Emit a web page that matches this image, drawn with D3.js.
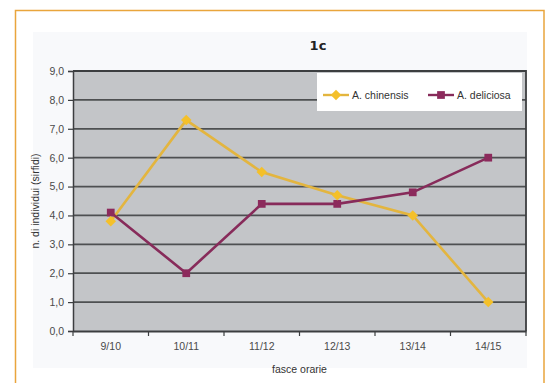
<!DOCTYPE html>
<html>
<head>
<meta charset="utf-8">
<script src="https://cdn.jsdelivr.net/npm/d3@7/dist/d3.min.js"></script>
<style>
  html, body { margin: 0; padding: 0; background: #ffffff; }
  svg { display: block; }
</style>
</head>
<body>
<svg id="chart" width="547" height="383"></svg>
<script>
// Time slots (x categories)
const categories = ["9/10", "10/11", "11/12", "12/13", "13/14", "14/15"];
// Number of individuals (syrphids) per time slot
const chinensis = [3.8, 7.3, 5.5, 4.7, 4.0, 1.0];
const deliciosa = [4.1, 2.0, 4.4, 4.4, 4.8, 6.0];
const seriesNames = ["A. chinensis", "A. deliciosa"];
const yTicks = [0, 1, 2, 3, 4, 5, 6, 7, 8, 9];

const svg = d3.select("#chart");
const font = "Arial, 'Liberation Sans', sans-serif";

// outer orange frame
svg.append("rect")
  .attr("x", 15.5).attr("y", 10.5)
  .attr("width", 528.5).attr("height", 390)
  .attr("fill", "#ffffff")
  .attr("stroke", "#e9a53c").attr("stroke-width", 1.5);

// chart area
svg.append("rect")
  .attr("x", 33).attr("y", 32)
  .attr("width", 494).attr("height", 336)
  .attr("fill", "#f8f9fb");

const plot = { left: 73, right: 526, top: 71, bottom: 331 };

const x = d3.scaleBand().domain(categories)
  .range([plot.left, plot.right]).padding(0);
const y = d3.scaleLinear().domain([0, 9])
  .range([plot.bottom, plot.top]);

// plot background
svg.append("rect")
  .attr("x", plot.left).attr("y", plot.top)
  .attr("width", plot.right - plot.left).attr("height", plot.bottom - plot.top)
  .attr("fill", "#c3c5c8");

// horizontal gridlines
svg.append("g").selectAll("line").data(yTicks.filter(d => d > 0))
  .join("line")
  .attr("x1", plot.left).attr("x2", plot.right)
  .attr("y1", d => y(d)).attr("y2", d => y(d))
  .attr("stroke", "#4e5052").attr("stroke-width", 1.8);

// plot border (top and right)
svg.append("path")
  .attr("d", `M${plot.left},${plot.top}H${plot.right}V${plot.bottom}`)
  .attr("fill", "none").attr("stroke", "#3c3e40").attr("stroke-width", 1.8);

// y axis
const yAxis = svg.append("g")
  .attr("transform", `translate(${plot.left},0)`)
  .call(d3.axisLeft(y).tickValues(yTicks).tickSize(5).tickPadding(4)
    .tickFormat(d => d3.format(".1f")(d).replace(".", ",")));
yAxis.select(".domain").attr("stroke", "#3c3e40").attr("stroke-width", 1.5);
yAxis.selectAll(".tick line").attr("stroke", "#3c3e40").attr("stroke-width", 1.2);
yAxis.selectAll("text").attr("font-family", font).attr("font-size", 10.5)
  .attr("fill", "#4a4a4a");

// x axis with ticks between categories
const xAxis = svg.append("g")
  .attr("transform", `translate(0,${plot.bottom})`)
  .call(d3.axisBottom(x).tickSize(0).tickPadding(12));
xAxis.select(".domain").attr("stroke", "#3c3e40").attr("stroke-width", 1.8);
xAxis.selectAll("text").attr("font-family", font).attr("font-size", 10.5)
  .attr("fill", "#4a4a4a");
const bounds = categories.map(c => x(c)).concat([x(categories[categories.length - 1]) + x.bandwidth()]);
xAxis.append("g").selectAll("line").data(bounds).join("line")
  .attr("x1", d => d).attr("x2", d => d)
  .attr("y1", 0).attr("y2", 5)
  .attr("stroke", "#3c3e40").attr("stroke-width", 1.2);

const cx = c => x(c) + x.bandwidth() / 2;
const line = d3.line().x((d, i) => cx(categories[i])).y(d => y(d));

const colChinLine = "#e3b53f", colChinMark = "#f4c02a";
const colDelLine = "#872b5a", colDelMark = "#8c2a5c";

// series lines
svg.append("path").datum(chinensis).attr("d", line)
  .attr("fill", "none").attr("stroke", colChinLine).attr("stroke-width", 2.6);
svg.append("path").datum(deliciosa).attr("d", line)
  .attr("fill", "none").attr("stroke", colDelLine).attr("stroke-width", 2.6);

const diamond = d3.symbol().type(d3.symbolDiamond2 || d3.symbolDiamond).size(70);
const square = d3.symbol().type(d3.symbolSquare).size(60);

// markers
svg.append("g").selectAll("path").data(deliciosa).join("path")
  .attr("d", square)
  .attr("transform", (d, i) => `translate(${cx(categories[i])},${y(d)})`)
  .attr("fill", colDelMark);
svg.append("g").selectAll("path").data(chinensis).join("path")
  .attr("d", diamond)
  .attr("transform", (d, i) => `translate(${cx(categories[i])},${y(d)})`)
  .attr("fill", colChinMark);

// title
svg.append("text")
  .attr("x", 318).attr("y", 50)
  .attr("text-anchor", "middle")
  .attr("font-family", "'DejaVu Sans', Verdana, sans-serif")
  .attr("font-weight", "bold").attr("font-size", 13)
  .attr("fill", "#222").text("1c");

// axis titles
svg.append("text")
  .attr("transform", `translate(39,${(plot.top + plot.bottom) / 2}) rotate(-90)`)
  .attr("text-anchor", "middle")
  .attr("font-family", font).attr("font-size", 10.5).attr("fill", "#333")
  .text("n. di individui (sirfidi)");
svg.append("text")
  .attr("x", (plot.left + plot.right) / 2).attr("y", 373)
  .attr("text-anchor", "middle")
  .attr("font-family", font).attr("font-size", 10.5).attr("fill", "#333")
  .text("fasce orarie");

// legend
const legend = svg.append("g");
legend.append("rect")
  .attr("x", 317).attr("y", 73).attr("width", 205).attr("height", 38)
  .attr("fill", "#ffffff");
const legendItems = [
  { name: seriesNames[0], x0: 323, lc: colChinLine, mc: colChinMark, sym: diamond },
  { name: seriesNames[1], x0: 428, lc: colDelLine, mc: colDelMark, sym: square }
];
legendItems.forEach(it => {
  const ly = 95;
  legend.append("line").attr("x1", it.x0).attr("x2", it.x0 + 26)
    .attr("y1", ly).attr("y2", ly).attr("stroke", it.lc).attr("stroke-width", 2.4);
  legend.append("path").attr("d", it.sym)
    .attr("transform", `translate(${it.x0 + 13},${ly})`).attr("fill", it.mc);
  legend.append("text").attr("x", it.x0 + 29).attr("y", ly + 4)
    .attr("font-family", font).attr("font-size", 10.5).attr("fill", "#333")
    .text(it.name);
});
</script>
</body>
</html>
